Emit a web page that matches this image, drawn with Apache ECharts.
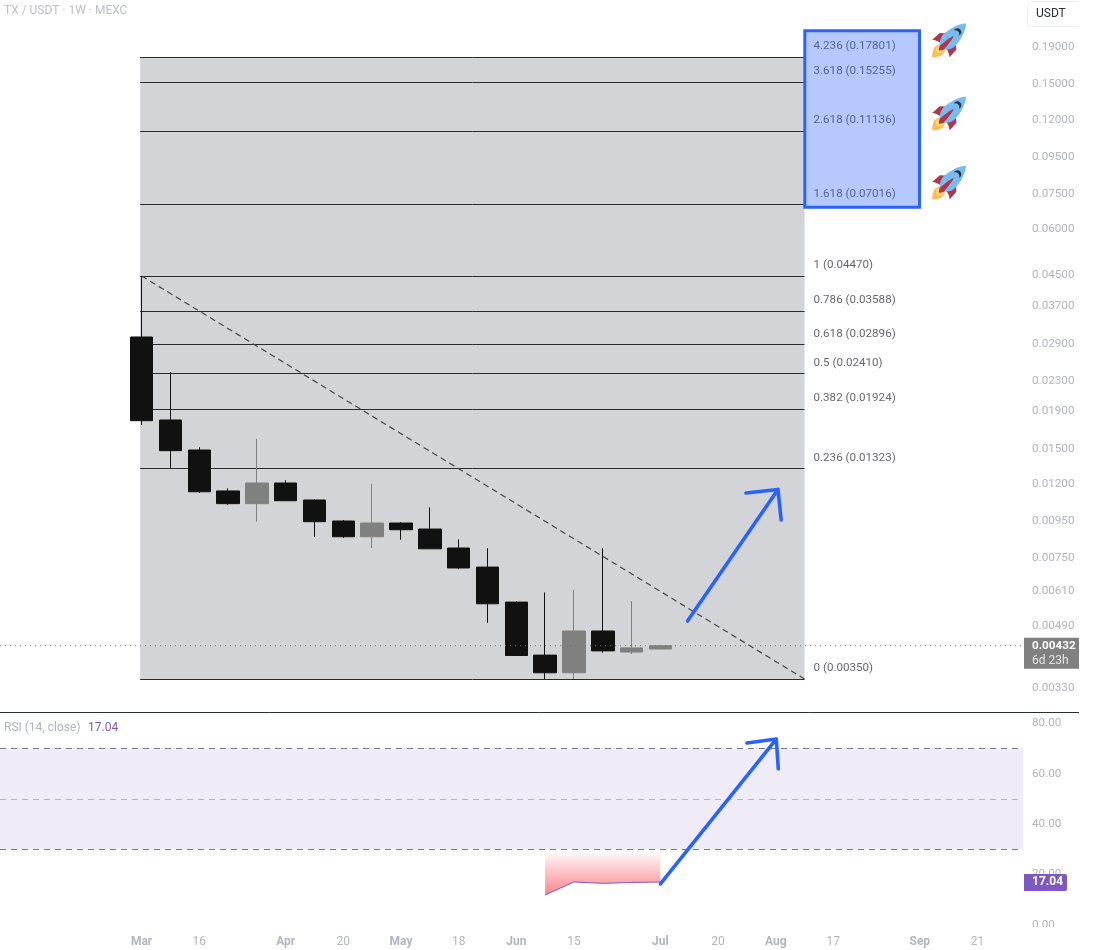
<!DOCTYPE html>
<html>
<head>
<meta charset="utf-8">
<style>html,body{margin:0;padding:0;background:#fff}#c{width:1100px;height:950px}</style>
<script src="https://cdn.jsdelivr.net/npm/echarts@6/dist/echarts.min.js"></script>
</head>
<body>
<div id="c"></div>
<script>
// Weekly TX/USDT candles; the x axis counts weeks from the first Monday of March
const opens  = [0.03040,0.01799,0.01488,0.01149,0.01060,0.01208,0.01085,0.00950,0.00860,0.00938,0.00903,0.00801,0.00710,0.00569,0.00407,0.00364,0.00474,0.00415,0.00423];
const closes = [0.01791,0.01482,0.01143,0.01060,0.01208,0.01080,0.00946,0.00860,0.00938,0.00899,0.00797,0.00706,0.00563,0.00406,0.00364,0.00474,0.00418,0.00426,0.00432];
const lows   = [0.01743,0.01328,0.01136,0.01051,0.00946,0.01080,0.00860,0.00853,0.00801,0.00844,0.00797,0.00701,0.00499,0.00406,0.00350,0.00350,0.00413,0.00410,0.00423];
const highs  = [0.04470,0.02433,0.01514,0.01168,0.01596,0.01229,0.01092,0.00956,0.01203,0.00944,0.01036,0.00846,0.00800,0.00573,0.00605,0.00614,0.00800,0.00572,0.00434];

// Fibonacci retracement: ratio and price of each level
const fibRatios = ['4.236','3.618','2.618','1.618','1','0.786','0.618','0.5','0.382','0.236','0'];
const fibPrices = [0.17801,0.15255,0.11136,0.07016,0.04470,0.03588,0.02896,0.02410,0.01924,0.01323,0.00350];
const fibStartWeek = -0.05, fibEndWeek = 23;

// RSI(14) for the last five weeks
const rsiWeeks  = [14,15,16,17,18];
const rsiValues = [11.9,17.05,16.5,16.85,17.04];

// Axis ticks
const priceTicks = [0.19,0.15,0.12,0.095,0.075,0.06,0.045,0.037,0.029,0.023,0.019,0.015,0.012,0.0095,0.0075,0.0061,0.0049,0.0033];
const rsiTicks = [0,20,40,60,80];
const timeTickWeeks  = [0,2,5,7,9,11,13,15,18,20,22,24,27,29];
const timeTickLabels = ['Mar','16','Apr','20','May','18','Jun','15','Jul','20','Aug','17','Sep','21'];
const monthLabels = ['Mar','Apr','May','Jun','Jul','Aug','Sep'];

// Drawn arrows: head barb, tip, head barb, gap, tail, tip
const priceArrowWeeks  = [20.97,22.08,22.19,null,18.94,22.08];
const priceArrowValues = [0.01134,0.01160,0.00956,null,0.00505,0.01160];
const rsiArrowWeeks  = [21,22.02,22.09,null,18,22.02];
const rsiArrowValues = [72.1,73.7,61.9,null,16.26,73.7];

// Rockets beside the extension levels
const rocketWeek = 28;
const rocketPrices = [0.1976,0.1245,0.0805];

// Extension highlight box
const boxWeeks = [23.01,26.99];
const boxPrices = [0.2106,0.06906];

const priceMin = 0.002841, priceMax = 0.2558;
const rsiMin = -1.98, rsiMax = 84.4;
const weekMin = -4.913, weekMax = 30.58;

const FONT = 'Roboto';
const AXIS_TEXT = '#b2b5be';

const rocketSvg = '<svg xmlns="http://www.w3.org/2000/svg" viewBox="0 0 36 36">' +
  '<path fill="#A0041E" d="M1 17l8-7 16 1 1 16-7 8s.001-5.999-6-12-12-6-12-6z"/>' +
  '<path fill="#FFAC33" d="M.973 35s-.036-7.979 2.985-11S15 21.187 15 21.187 14.999 29 11.999 32c-3 3-11.026 3-11.026 3z"/>' +
  '<circle fill="#FFCC4D" cx="8.999" cy="27" r="4"/>' +
  '<path fill="#55ACEE" d="M35.999 0s-10 0-22 10c-6 5-6 14-4 16s11 2 16-4c10-12 10-22 10-22z"/>' +
  '<path d="M26.999 5c-1.623 0-3.013.971-3.641 2.36.502-.227 1.055-.36 1.641-.36 2.209 0 4 1.791 4 4 0 .586-.133 1.139-.359 1.64 1.389-.627 2.359-2.017 2.359-3.64 0-2.209-1.791-4-4-4z"/>' +
  '<path fill="#A0041E" d="M8 28s0-4 1-5 13.001-10.999 14-10-9.001 13-10.001 14S8 28 8 28z"/></svg>';
const rocketSymbol = 'image://data:image/svg+xml;charset=utf-8,' + encodeURIComponent(rocketSvg);

const chart = echarts.init(document.getElementById('c'), null, {renderer: 'canvas'});
const arrowLine = {color: '#2962ff', width: 3.6, cap: 'round', join: 'round'};
const lastClose = closes[closes.length - 1];
const lastRsi = rsiValues[rsiValues.length - 1];

chart.setOption({
  animation: false,
  backgroundColor: '#ffffff',
  textStyle: {fontFamily: FONT},
  grid: [
    {left: 0, right: 77, top: 0, height: 712},
    {left: 0, right: 77, top: 712, height: 218}
  ],
  xAxis: [
    {gridIndex: 0, type: 'value', min: weekMin, max: weekMax,
     axisLine: {show: false}, axisTick: {show: false}, axisLabel: {show: false}, splitLine: {show: false}},
    {gridIndex: 1, type: 'value', min: weekMin, max: weekMax,
     axisLine: {show: false}, axisTick: {show: false}, splitLine: {show: false},
     axisLabel: {
       show: true, margin: 6, color: AXIS_TEXT, fontSize: 12, fontFamily: FONT,
       customValues: timeTickWeeks,
       showMinLabel: true, showMaxLabel: true, hideOverlap: false,
       formatter: v => {
         const t = timeTickLabels[timeTickWeeks.indexOf(+v)] || '';
         return monthLabels.includes(t) ? '{m|' + t + '}' : t;
       },
       rich: {m: {fontWeight: 'bold', color: AXIS_TEXT, fontSize: 12, fontFamily: FONT}}
     }}
  ],
  yAxis: [
    {gridIndex: 0, type: 'log', logBase: 10, position: 'right', min: priceMin, max: priceMax,
     axisLine: {show: false}, axisTick: {show: false}, splitLine: {show: false},
     axisLabel: {show: true, margin: 9, color: AXIS_TEXT, fontSize: 11.7, fontFamily: FONT, align: 'left',
       padding: [3, 0, 0, 0], customValues: priceTicks, formatter: v => (+v).toFixed(5)}},
    {gridIndex: 1, type: 'value', position: 'right', min: rsiMin, max: rsiMax,
     axisLine: {show: false}, axisTick: {show: false}, splitLine: {show: false},
     axisLabel: {show: true, margin: 9, color: AXIS_TEXT, fontSize: 11.7, fontFamily: FONT, align: 'left',
       padding: [3, 0, 0, 0], customValues: rsiTicks, formatter: v => (+v).toFixed(2)}}
  ],
  series: [
    // Fibonacci zone and its level lines, behind the candles
    {type: 'line', xAxisIndex: 0, yAxisIndex: 0, z: 1, data: [], silent: true,
     markArea: {silent: true, z: 1, itemStyle: {color: '#d2d4d7'},
       data: [[{coord: [fibStartWeek, fibPrices[0]]}, {coord: [fibEndWeek, fibPrices[fibPrices.length - 1]]}]]},
     markLine: {silent: true, symbol: 'none', label: {show: false}, z: 2,
       lineStyle: {color: '#2b2b2e', width: 1, type: 'solid'},
       data: fibPrices.map(p => [{coord: [fibStartWeek, p]}, {coord: [fibEndWeek, p]}])}},
    {type: 'candlestick', name: 'TX/USDT', xAxisIndex: 0, yAxisIndex: 0, z: 3, barWidth: 23, silent: true,
     itemStyle: {color: '#808080', borderColor: '#808080', color0: '#111111', borderColor0: '#111111', borderWidth: 1},
     data: opens.map((o, i) => [i, o, closes[i], lows[i], highs[i]])},
    // Last-price dotted line
    {type: 'line', xAxisIndex: 0, yAxisIndex: 0, z: 4, symbol: 'none', silent: true,
     lineStyle: {color: '#70747c', width: 1, type: [1, 4]},
     data: [[weekMin, lastClose], [weekMax, lastClose]]},
    // Dashed diagonal across the retracement
    {type: 'line', xAxisIndex: 0, yAxisIndex: 0, z: 4, symbol: 'none', silent: true,
     lineStyle: {color: '#44464c', width: 1.2, type: [6, 4]},
     data: [[0, fibPrices[4]], [fibEndWeek, fibPrices[10]]]},
    // Highlight box over the extension levels
    {type: 'line', xAxisIndex: 0, yAxisIndex: 0, z: 5, data: [], silent: true,
     markArea: {silent: true, z: 5, itemStyle: {color: '#b5c9ff', borderColor: '#2962ff', borderWidth: 3},
       data: [[{coord: [boxWeeks[0], boxPrices[0]]}, {coord: [boxWeeks[1], boxPrices[1]]}]]}},
    // Level captions
    {type: 'scatter', xAxisIndex: 0, yAxisIndex: 0, z: 6, symbolSize: 0, silent: true, clip: false,
     data: fibPrices.map((p, i) => ({
       value: [fibEndWeek, p],
       label: {color: p > fibPrices[4] ? '#3c4a6e' : '#3f4147'},
       name: fibRatios[i] + ' (' + p.toFixed(5) + ')'
     })),
     label: {show: true, position: 'right', offset: [4, -11], fontSize: 11.6, fontFamily: FONT,
       formatter: d => d.name}},
    {type: 'scatter', xAxisIndex: 0, yAxisIndex: 0, z: 6, symbol: rocketSymbol, symbolSize: 35, silent: true, clip: false,
     data: rocketPrices.map(p => [rocketWeek, p])},
    {type: 'line', xAxisIndex: 0, yAxisIndex: 0, z: 7, symbol: 'none', silent: true, connectNulls: false,
     lineStyle: arrowLine,
     data: priceArrowWeeks.map((w, i) => w === null ? [null, null] : [w, priceArrowValues[i]])},

    // RSI pane: 30-70 band and its guide lines
    {type: 'line', xAxisIndex: 1, yAxisIndex: 1, z: 1, data: [], silent: true,
     markArea: {silent: true, itemStyle: {color: '#efecf8'}, data: [[{yAxis: 70}, {yAxis: 30}]]},
     markLine: {silent: true, symbol: 'none', label: {show: false},
       data: [
         {yAxis: 70, lineStyle: {color: '#787b86', width: 1, type: [6, 5]}},
         {yAxis: 50, lineStyle: {color: '#b4b2c0', width: 1, type: [6, 5]}},
         {yAxis: 30, lineStyle: {color: '#787b86', width: 1, type: [6, 5]}}
       ]}},
    {type: 'line', name: 'RSI', xAxisIndex: 1, yAxisIndex: 1, z: 3, symbol: 'none', silent: true,
     lineStyle: {color: '#7e57c2', width: 1},
     areaStyle: {origin: 30, opacity: 1, color: new echarts.graphic.LinearGradient(0, 0, 0, 1, [
       {offset: 0, color: 'rgba(255,255,255,0)'},
       {offset: 0.12, color: '#fff3f4'},
       {offset: 0.7, color: '#fca9ae'},
       {offset: 1, color: '#f7858d'}
     ])},
     data: rsiWeeks.map((w, i) => [w, rsiValues[i]])},
    {type: 'line', xAxisIndex: 1, yAxisIndex: 1, z: 7, symbol: 'none', silent: true, connectNulls: false,
     lineStyle: arrowLine,
     data: rsiArrowWeeks.map((w, i) => w === null ? [null, null] : [w, rsiArrowValues[i]])}
  ]
});

// Pane furniture and value badges, placed from the axes' own scales
const priceY = chart.convertToPixel({yAxisIndex: 0}, lastClose);
const rsiY = chart.convertToPixel({yAxisIndex: 1}, lastRsi);
chart.setOption({
  graphic: [
    {type: 'text', z: 60, left: 4, top: 5, style: {text: 'TX / USDT · 1W · MEXC', fill: '#bcbfc7', fontSize: 12, fontFamily: FONT}},
    {type: 'line', z: 60, shape: {x1: 0, y1: 712.5, x2: 1079, y2: 712.5}, style: {stroke: '#2a2e39', lineWidth: 1}},
    {type: 'text', z: 60, left: 4, top: 722, style: {text: 'RSI (14, close)', fill: '#b2b5be', fontSize: 12, fontFamily: FONT}},
    {type: 'text', z: 60, left: 88, top: 722, style: {text: lastRsi.toFixed(2), fill: '#7e57c2', fontSize: 12, fontFamily: FONT}},
    {type: 'rect', z: 60, shape: {x: 1027.5, y: 1.5, width: 60, height: 25, r: 4}, style: {fill: '#fff', stroke: '#eeeff2'}},
    {type: 'rect', z: 61, shape: {x: 1079, y: 0, width: 21, height: 30}, style: {fill: '#fff'}},
    {type: 'text', z: 62, left: 1036, top: 8, style: {text: 'USDT', fill: '#2a2e39', fontSize: 12, fontFamily: FONT}},
    {type: 'rect', z: 60, shape: {x: 1024, y: priceY - 8, width: 55, height: 31}, style: {fill: '#808080'}},
    {type: 'text', z: 61, left: 1032, top: priceY - 6, style: {text: lastClose.toFixed(5), fill: '#fff', fontSize: 11.7, fontWeight: 'bold', fontFamily: FONT}},
    {type: 'text', z: 61, left: 1032, top: priceY + 9, style: {text: '6d 23h', fill: '#e4e4e6', fontSize: 12, fontFamily: FONT}},
    {type: 'rect', z: 60, shape: {x: 1024, y: rsiY - 8, width: 43, height: 17, r: [0, 2, 2, 0]}, style: {fill: '#7e57c2'}},
    {type: 'text', z: 61, left: 1032, top: rsiY - 6, style: {text: lastRsi.toFixed(2), fill: '#fff', fontSize: 12, fontWeight: 'bold', fontFamily: FONT}},
    {type: 'rect', z: 60, shape: {x: 1024, y: 927, width: 76, height: 8}, style: {fill: '#fff'}}
  ]
});
</script>
</body>
</html>
